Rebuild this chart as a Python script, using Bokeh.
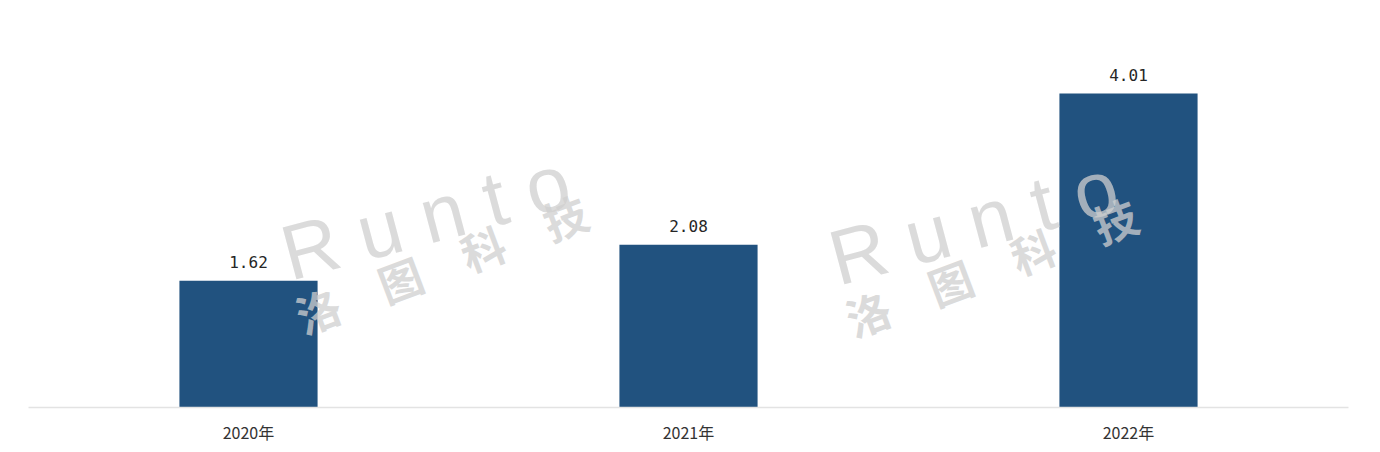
from bokeh.plotting import figure
from bokeh.models import ColumnDataSource, FactorRange, Range1d, LabelSet, Label
from bokeh.core.properties import value
from bokeh.embed import file_html
from bokeh.resources import INLINE

years = ["2020年", "2021年", "2022年"]
values = [1.62, 2.08, 4.01]
value_text = ["1.62", "2.08", "4.01"]

src = ColumnDataSource(dict(x=years, top=values, label=value_text))

p = figure(x_range=FactorRange(*years), y_range=Range1d(0, 4.943),
           frame_width=1320, frame_height=387, output_backend="svg", toolbar_location=None,
           min_border_left=28, min_border_right=24, min_border_top=20, min_border_bottom=40)
p.outline_line_color = None
p.xgrid.grid_line_color = None
p.ygrid.grid_line_color = None
p.yaxis.visible = False
p.background_fill_color = "white"
p.border_fill_color = "white"

p.vbar(x="x", top="top", width=0.314, source=src, fill_color="#21527f", line_color=None)

# watermark (screen units, relative to the plot frame)
for (rx, ry), (cx, cy) in [((266, 110), (280, 60)), ((814, 105), (830, 57))]:
    p.add_layout(Label(x=rx, y=ry, x_units="screen", y_units="screen", text="R u n t o",
                       angle=0.26, text_font_size="78px", text_font_style="normal",
                       text_color="#cfcfcf", text_alpha=0.75, text_font="Liberation Sans"))
    p.add_layout(Label(x=cx, y=cy, x_units="screen", y_units="screen", text="洛　图　科　技",
                       angle=0.36, text_font_size="44px", text_font_style="bold",
                       text_color="#cfcfcf", text_alpha=0.75, text_font="Noto Sans CJK SC"))

labels = LabelSet(x="x", y="top", text="label", source=src, text_align="center",
                  text_baseline="alphabetic", y_offset=13, text_font_size=value("16px"),
                  text_color=value("#262626"), text_font=value("DejaVu Sans Mono"))
p.add_layout(labels)

p.xaxis.axis_line_color = "#e3e3e3"
p.xaxis.axis_line_width = 1.5
p.xaxis.major_tick_line_color = None
p.xaxis.minor_tick_line_color = None
p.xaxis.major_label_standoff = 6
p.xaxis.major_label_text_font_size = "16px"
p.xaxis.major_label_text_color = "#333333"
p.xaxis.major_label_text_font = "Noto Sans CJK SC"

open("out.html", "w").write(file_html(p, INLINE))
